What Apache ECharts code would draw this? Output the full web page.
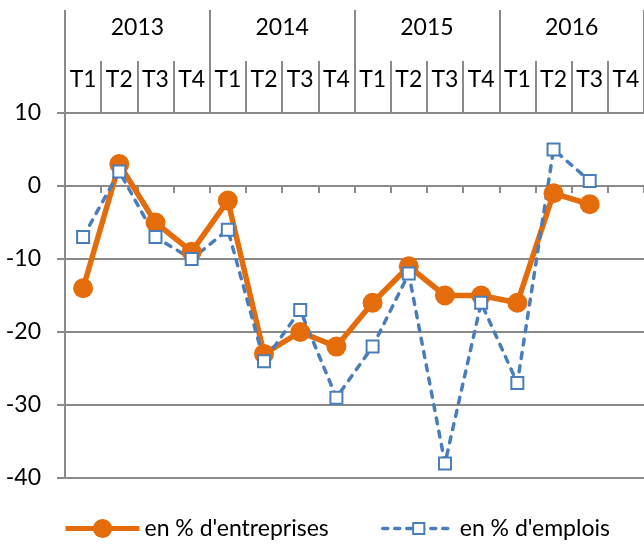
<!DOCTYPE html>
<html><head><meta charset="utf-8">
<script src="https://cdn.jsdelivr.net/npm/echarts@6/dist/echarts.min.js"></script>
<style>html,body{margin:0;padding:0;background:#fff}#c{width:644px;height:545px}</style>
</head><body><div id="c"></div>
<script>
const quarters = ['T1','T2','T3','T4','T1','T2','T3','T4','T1','T2','T3','T4','T1','T2','T3','T4'];
const years = ['2013','2014','2015','2016'];
const seriesNames = ["en % d'entreprises", "en % d'emplois"];
const entreprises = [-14, 3, -5, -9, -2, -23, -20, -22, -16, -11, -15, -15, -16, -1, -2.5, null];
const emplois = [-7, 2, -7, -10, -6, -24, -17, -29, -22, -12, -38, -16, -27, 5, 0.7, null];
const yMin = -40, yMax = 10, yStep = 10;

const FONT = 'Lato';
const FS = 23;
const GRAY = '#8a8a8a';
const ORANGE = '#E46C0A';
const BLUE = '#4A7EBB';

const chart = echarts.init(document.getElementById('c'), null, {renderer: 'canvas'});
chart.setOption({
  animation: false,
  backgroundColor: '#fff',
  textStyle: {fontFamily: FONT, color: '#000'},
  grid: {left: 65, right: -3, top: 113, bottom: 67, containLabel: false},
  legend: [
    {data: [{name: seriesNames[0], lineStyle: {width: 5, color: ORANGE}}],
     left: 58, top: 512, itemWidth: 74, itemHeight: 24, itemGap: 0,
     textStyle: {fontFamily: FONT, fontSize: FS, color: '#000'}},
    {data: [{name: seriesNames[1], lineStyle: {width: 3.5, color: BLUE, type: [5, 7], cap: 'round'}}],
     left: 376, top: 512, itemWidth: 72, itemHeight: 14, itemGap: 0,
     textStyle: {fontFamily: FONT, fontSize: FS, color: '#000'}}
  ],
  xAxis: [
    {type: 'category', data: quarters, boundaryGap: true,
     axisLine: {onZero: true, lineStyle: {color: GRAY, width: 2}},
     axisTick: {show: true, length: 7, alignWithLabel: false, lineStyle: {color: GRAY, width: 2}},
     axisLabel: {show: false}, splitLine: {show: false}},
    {type: 'category', data: quarters, position: 'top', boundaryGap: true,
     axisLine: {show: false},
     axisTick: {show: true, length: 52, alignWithLabel: false, lineStyle: {color: GRAY, width: 2}},
     axisLabel: {show: true, margin: 22, fontFamily: FONT, fontSize: FS, color: '#000', interval: 0},
     splitLine: {show: false}},
    {type: 'category', data: years, position: 'top', boundaryGap: true,
     axisLine: {show: false},
     axisTick: {show: true, length: 103, alignWithLabel: false, lineStyle: {color: GRAY, width: 2}},
     axisLabel: {show: true, margin: 74, fontFamily: FONT, fontSize: FS, color: '#000', interval: 0},
     splitLine: {show: false}}
  ],
  yAxis: {
    type: 'value', min: yMin, max: yMax, interval: yStep,
    axisLine: {show: true, lineStyle: {color: GRAY, width: 2}},
    axisTick: {show: true, length: 8, lineStyle: {color: GRAY, width: 2}},
    axisLabel: {margin: 24, fontFamily: FONT, fontSize: FS, color: '#000'},
    splitLine: {show: true, lineStyle: {color: GRAY, width: 2}}
  },
  series: [
    {name: seriesNames[0], type: 'line', xAxisIndex: 0, data: entreprises,
     symbol: 'circle', symbolSize: 20, showAllSymbol: true,
     lineStyle: {color: ORANGE, width: 5.5}, itemStyle: {color: ORANGE}},
    {name: seriesNames[1], type: 'line', xAxisIndex: 0, data: emplois,
     symbol: 'emptyRect', symbolSize: 12, showAllSymbol: true,
     lineStyle: {color: BLUE, width: 3.5, type: [6, 7.5], cap: 'round'},
     itemStyle: {color: BLUE, borderColor: BLUE, borderWidth: 2}}
  ]
});
</script>
</body></html>
